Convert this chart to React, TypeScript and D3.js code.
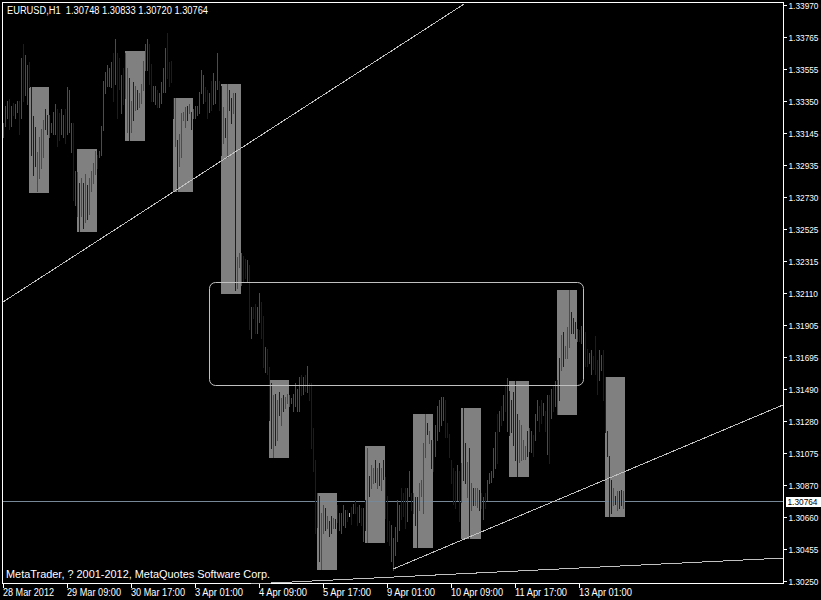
import React from "react";
import * as d3 from "d3";

const symbolTitle = "EURUSD,H1";
const lastBarOHLC = ["1.30748", "1.30833", "1.30720", "1.30764"];
const copyrightText = "MetaTrader, ? 2001-2012, MetaQuotes Software Corp.";

// hourly bars, bar index 1 = 28 Mar 2012 01:00
const firstBarIndex = 1;
const barHigh = [
  1.3321, 1.3332, 1.3335, 1.3336, 1.3332, 1.3334, 1.3333, 1.3335, 1.3335, 1.3363,
  1.3372, 1.3365, 1.3358, 1.3360, 1.3344, 1.3325, 1.3318, 1.3302, 1.3312, 1.3317,
  1.3323, 1.3330, 1.3326, 1.3326, 1.3321, 1.3328, 1.3333, 1.3330, 1.3327, 1.3330,
  1.3326, 1.3330, 1.3344, 1.3342, 1.3321, 1.3321, 1.3290, 1.3289, 1.3282, 1.3285,
  1.3282, 1.3288, 1.3281, 1.3285, 1.3290, 1.3295, 1.3303, 1.3300, 1.3303, 1.3319,
  1.3348, 1.3354, 1.3358, 1.3356, 1.3360, 1.3366, 1.3375, 1.3366, 1.3363, 1.3352,
  1.3356, 1.3366, 1.3356, 1.3350, 1.3335, 1.3347, 1.3345, 1.3342, 1.3340, 1.3346,
  1.3361, 1.3372, 1.3375, 1.3372, 1.3359, 1.3345, 1.3345, 1.3342, 1.3340, 1.3347,
  1.3356, 1.3369, 1.3379, 1.3360, 1.3361, 1.3337, 1.3337, 1.3310, 1.3314, 1.3327,
  1.3328, 1.3331, 1.3332, 1.3333, 1.3328, 1.3330, 1.3332, 1.3332, 1.3341, 1.3355,
  1.3352, 1.3344, 1.3342, 1.3340, 1.3348, 1.3353, 1.3348, 1.3366, 1.3348, 1.3345,
  1.3331, 1.3324, 1.3346, 1.3342, 1.3337, 1.3340, 1.3340, 1.3234, 1.3237, 1.3237,
  1.3235, 1.3233, 1.3232, 1.3229, 1.3202, 1.3202, 1.3204, 1.3202, 1.3211, 1.3205,
  1.3196, 1.3176, 1.3175, 1.3163, 1.3153, 1.3145, 1.3146, 1.3142, 1.3147, 1.3143,
  1.3145, 1.3144, 1.3146, 1.3145, 1.3143, 1.3146, 1.3153, 1.3149, 1.3157, 1.3158,
  1.3157, 1.3158, 1.3164, 1.3153, 1.3153, 1.3124, 1.3103, 1.3082, 1.3080, 1.3069,
  1.3074, 1.3072, 1.3067, 1.3064, 1.3067, 1.3066, 1.3065, 1.3074, 1.3069, 1.3069,
  1.3074, 1.3071, 1.3071, 1.3069, 1.3073, 1.3075, 1.3077, 1.3073, 1.3074, 1.3072,
  1.3072, 1.3077, 1.3111, 1.3093, 1.3100, 1.3098, 1.3103, 1.3098, 1.3101, 1.3098,
  1.3103, 1.3092, 1.3080, 1.3064, 1.3061, 1.3053, 1.3060, 1.3077, 1.3074, 1.3085,
  1.3082, 1.3085, 1.3085, 1.3096, 1.3082, 1.3082, 1.3079, 1.3079, 1.3088, 1.3090,
  1.3114, 1.3133, 1.3127, 1.3122, 1.3116, 1.3116, 1.3126, 1.3138, 1.3142, 1.3144,
  1.3144, 1.3142, 1.3127, 1.3120, 1.3103, 1.3098, 1.3096, 1.3100, 1.3096, 1.3101,
  1.3137, 1.3114, 1.3102, 1.3111, 1.3088, 1.3085, 1.3085, 1.3085, 1.3084, 1.3082,
  1.3079, 1.3082, 1.3090, 1.3095, 1.3096, 1.3111, 1.3121, 1.3133, 1.3135, 1.3138,
  1.3145, 1.3151, 1.3156, 1.3148, 1.3142, 1.3147, 1.3154, 1.3133, 1.3129, 1.3126,
  1.3116, 1.3112, 1.3122, 1.3124, 1.3122, 1.3119, 1.3133, 1.3142, 1.3138, 1.3142,
  1.3140, 1.3135, 1.3145, 1.3145, 1.3149, 1.3151, 1.3154, 1.3155, 1.3169, 1.3184,
  1.3186, 1.3177, 1.3189, 1.3213, 1.3199, 1.3195, 1.3192, 1.3188, 1.3187, 1.3190,
  1.3199, 1.3186, 1.3175, 1.3172, 1.3174, 1.3170, 1.3183, 1.3168, 1.3174, 1.3171,
  1.3174, 1.3157, 1.3122, 1.3106, 1.3090, 1.3085, 1.3080, 1.3083, 1.3083, 1.3084,
  1.30833,
];
const barLow = [
  1.3312, 1.3319, 1.3324, 1.3317, 1.3319, 1.3326, 1.3324, 1.3328, 1.3314, 1.3324,
  1.3335, 1.3339, 1.3333, 1.3344, 1.3300, 1.3287, 1.3293, 1.3277, 1.3285, 1.3292,
  1.3299, 1.3317, 1.3314, 1.3312, 1.3315, 1.3314, 1.3314, 1.3306, 1.3310, 1.3314,
  1.3312, 1.3308, 1.3314, 1.3315, 1.3302, 1.3271, 1.3268, 1.3261, 1.3251, 1.3261,
  1.3253, 1.3257, 1.3259, 1.3262, 1.3277, 1.3282, 1.3288, 1.3292, 1.3299, 1.3300,
  1.3316, 1.3340, 1.3345, 1.3345, 1.3344, 1.3335, 1.3346, 1.3324, 1.3343, 1.3327,
  1.3333, 1.3337, 1.3315, 1.3310, 1.3315, 1.3323, 1.3329, 1.3330, 1.3331, 1.3334,
  1.3342, 1.3355, 1.3355, 1.3346, 1.3335, 1.3335, 1.3333, 1.3331, 1.3331, 1.3334,
  1.3341, 1.3341, 1.3350, 1.3345, 1.3347, 1.3324, 1.3306, 1.3277, 1.3293, 1.3299,
  1.3323, 1.3318, 1.3323, 1.3327, 1.3317, 1.3324, 1.3324, 1.3326, 1.3327, 1.3340,
  1.3334, 1.3335, 1.3324, 1.3328, 1.3329, 1.3333, 1.3334, 1.3343, 1.3329, 1.3300,
  1.3308, 1.3312, 1.3299, 1.3329, 1.3321, 1.3327, 1.3213, 1.3214, 1.3228, 1.3216,
  1.3218, 1.3221, 1.3218, 1.3188, 1.3182, 1.3195, 1.3185, 1.3185, 1.3192, 1.3182,
  1.3163, 1.3160, 1.3159, 1.3129, 1.3111, 1.3105, 1.3113, 1.3116, 1.3132, 1.3126,
  1.3135, 1.3137, 1.3140, 1.3138, 1.3140, 1.3135, 1.3138, 1.3135, 1.3135, 1.3145,
  1.3146, 1.3148, 1.3147, 1.3142, 1.3111, 1.3096, 1.3056, 1.3060, 1.3038, 1.3033,
  1.3056, 1.3058, 1.3059, 1.3054, 1.3056, 1.3059, 1.3059, 1.3063, 1.3058, 1.3056,
  1.3061, 1.3060, 1.3064, 1.3067, 1.3062, 1.3069, 1.3069, 1.3061, 1.3063, 1.3061,
  1.3051, 1.3058, 1.3050, 1.3080, 1.3085, 1.3088, 1.3089, 1.3085, 1.3087, 1.3084,
  1.3091, 1.3066, 1.3051, 1.3048, 1.3038, 1.3032, 1.3042, 1.3051, 1.3058, 1.3065,
  1.3067, 1.3059, 1.3064, 1.3080, 1.3071, 1.3069, 1.3061, 1.3047, 1.3071, 1.3080,
  1.3069, 1.3105, 1.3120, 1.3114, 1.3098, 1.3096, 1.3106, 1.3116, 1.3122, 1.3126,
  1.3129, 1.3118, 1.3118, 1.3105, 1.3088, 1.3075, 1.3072, 1.3077, 1.3064, 1.3076,
  1.3090, 1.3088, 1.3079, 1.3053, 1.3071, 1.3074, 1.3074, 1.3073, 1.3071, 1.3072,
  1.3065, 1.3072, 1.3077, 1.3088, 1.3089, 1.3092, 1.3098, 1.3101, 1.3122, 1.3126,
  1.3129, 1.3135, 1.3122, 1.3119, 1.3121, 1.3113, 1.3103, 1.3093, 1.3102, 1.3103,
  1.3104, 1.3104, 1.3106, 1.3109, 1.3108, 1.3106, 1.3116, 1.3129, 1.3122, 1.3127,
  1.3132, 1.3122, 1.3107, 1.3101, 1.3130, 1.3135, 1.3138, 1.3133, 1.3142, 1.3161,
  1.3164, 1.3169, 1.3169, 1.3176, 1.3185, 1.3185, 1.3182, 1.3180, 1.3180, 1.3179,
  1.3184, 1.3164, 1.3164, 1.3166, 1.3159, 1.3162, 1.3159, 1.3146, 1.3155, 1.3161,
  1.3142, 1.3121, 1.3106, 1.3067, 1.3069, 1.3074, 1.3075, 1.3071, 1.3072, 1.3074,
  1.30720,
];
// u = close above open, d = close below open, n = unchanged
const barDirection = (
  "uuududuudu" + "duudddduuu" + "udduuuuddu" + "uduuuduudu" + "duduuuuduu" +
  "uuuuududdu" + "duudududuu" + "uuudduuduu" + "uudddduduu" + "uududuuuuu" +
  "udduduuudd" + "ududduduuu" + "ddududduud" + "dudddududu" + "duuuuuuuud" +
  "ududdddudu" + "ududdudduu" + "uudnduddud" + "ududuududu" + "dddduuuuud" +
  "dduududduu" + "uududduuuu" + "uddddddudu" + "ddududuudd" + "uduuuuudud" +
  "ududdddduu" + "uuduuduudd" + "udududuudu" + "duuudddudu" + "ddduuddduu" +
  "dddddududd" + "u"
).split("");

// daily session boxes (14:00-24:00), one per trading day
const sessionStartBar = [14, 38, 62, 86, 110, 134, 158, 182, 206, 230, 254, 278, 302];
const sessionHours = 10;
const sessionHigh = [1.3344, 1.3304, 1.3367, 1.3337, 1.3346, 1.3155, 1.3082, 1.3112, 1.3133, 1.3137, 1.3154, 1.3213, 1.3157];
const sessionLow = [1.3276, 1.3251, 1.3310, 1.3277, 1.3211, 1.3105, 1.3033, 1.3050, 1.3047, 1.3053, 1.3093, 1.3133, 1.3067];

const timeLabels = ["28 Mar 2012", "29 Mar 09:00", "30 Mar 17:00", "3 Apr 01:00", "4 Apr 09:00", "5 Apr 17:00", "9 Apr 01:00", "10 Apr 09:00", "11 Apr 17:00", "13 Apr 01:00"];
const timeLabelBars = [1, 33, 65, 97, 129, 161, 193, 225, 257, 289];

const priceLabels = ["1.33970", "1.33765", "1.33555", "1.33350", "1.33145", "1.32935", "1.32730", "1.32525", "1.32315", "1.32110", "1.31905", "1.31695", "1.31490", "1.31280", "1.31075", "1.30870", "1.30660", "1.30455", "1.30250"];
const priceMin = 1.3025;
const priceMax = 1.3397;
const currentPrice = 1.30764;

// trend lines: start bar/price -> end bar/price
const trendStartBar = [1, 196, 100];
const trendStartPrice = [1.32052, 1.30327, 1.30215];
const trendEndBar = [231.5, 391, 391];
const trendEndPrice = [1.33976, 1.31387, 1.30398];

// rounded consolidation zone
const zoneBars = [104, 291];
const zonePrices = [1.32181, 1.31516];

const upColor = "#ff0000";
const downColor = "#0000ff";
const flatColor = "#60e8b0";
const FONT = "'Liberation Sans', Arial, sans-serif";
const timeLabelWidths = [51, 54, 54, 48, 48, 48, 48, 52, 52, 53];

export default function App() {
  const W = 821;
  const H = 600;
  const plot = { left: 2, top: 2, right: 783, bottom: 583 };
  const x = d3.scaleLinear().domain([0, 391]).range([1, 783]);
  const y = d3.scaleLinear().domain([priceMin, priceMax]).range([581, 5]);
  const ry = (p: number) => Math.round(y(p));

  const bars = barHigh.map((h, i) => ({
    t: i + firstBarIndex,
    h,
    l: barLow[i],
    d: barDirection[i] || "u",
  }));
  const colorOf = (d: string) => (d === "u" ? upColor : d === "d" ? downColor : flatColor);

  const priceTicks = d3.range(priceLabels.length).map((k) => ({
    v: priceMax - (k * (priceMax - priceMin)) / (priceLabels.length - 1),
    label: priceLabels[k],
  }));

  const textStyle = { fontFamily: FONT, fontSize: 10 } as React.CSSProperties;
  const numStyle = { fontFamily: FONT, fontSize: 8.3 } as React.CSSProperties;
  const copyStyle = { fontFamily: FONT, fontSize: 10.9 } as React.CSSProperties;

  return (
    <svg
      width={W}
      height={H}
      style={{ position: "absolute", left: 0, top: 0, background: "#000" }}
    >
      <defs>
        <clipPath id="plotClip">
          <rect x={plot.left} y={plot.top} width={plot.right - plot.left} height={plot.bottom - plot.top} />
        </clipPath>
        <clipPath id="lineClip">
          <rect x={plot.left} y={plot.top} width={plot.right - plot.left} height={plot.bottom - plot.top + 1} />
        </clipPath>
      </defs>
      <rect x={0} y={0} width={W} height={H} fill="#000" />

      <g clipPath="url(#plotClip)" shapeRendering="crispEdges">
        {sessionStartBar.map((s, i) => (
          <rect
            key={"box" + i}
            x={x(s)}
            y={ry(sessionHigh[i])}
            width={x(s + sessionHours) - x(s)}
            height={ry(sessionLow[i]) - ry(sessionHigh[i]) + 1}
            fill="#808080"
          />
        ))}
        <line
          x1={plot.left}
          x2={plot.right}
          y1={ry(currentPrice) + 0.5}
          y2={ry(currentPrice) + 0.5}
          stroke="#778899"
          strokeWidth={1}
        />
        {bars.map((b) => (
          <rect
            key={"bar" + b.t}
            x={x(b.t)}
            y={ry(b.h)}
            width={1}
            height={Math.max(1, ry(b.l) - ry(b.h) + 1)}
            fill={colorOf(b.d)}
          />
        ))}
      </g>

      {/* frame */}
      <g shapeRendering="crispEdges" stroke="#ffffff" strokeWidth={1}>
        <line x1={plot.left + 0.5} x2={plot.left + 0.5} y1={plot.top} y2={plot.bottom + 1} />
        <line x1={plot.right + 0.5} x2={plot.right + 0.5} y1={plot.top} y2={plot.bottom + 1} />
        <line x1={plot.left} x2={plot.right + 1} y1={plot.top + 0.5} y2={plot.top + 0.5} />
        <line x1={plot.left} x2={plot.right + 1} y1={plot.bottom + 0.5} y2={plot.bottom + 0.5} />
        {priceTicks.map((p, i) => (
          <line key={"pt" + i} x1={plot.right} x2={plot.right + 4} y1={ry(p.v) + 0.5} y2={ry(p.v) + 0.5} />
        ))}
        {timeLabelBars.map((t, i) => (
          <line key={"tt" + i} x1={x(t) + 0.5} x2={x(t) + 0.5} y1={plot.bottom} y2={plot.bottom + 5} />
        ))}
      </g>

      <g clipPath="url(#lineClip)">
        <rect
          x={x(zoneBars[0]) + 0.5}
          y={ry(zonePrices[0]) + 0.5}
          width={x(zoneBars[1]) - x(zoneBars[0])}
          height={ry(zonePrices[1]) - ry(zonePrices[0])}
          rx={6}
          ry={6}
          fill="none"
          stroke="#c0c0c0"
          strokeWidth={1}
        />
        {trendStartBar.map((t1, i) => (
          <line
            key={"trend" + i}
            x1={x(t1)}
            y1={y(trendStartPrice[i])}
            x2={x(trendEndBar[i])}
            y2={y(trendEndPrice[i])}
            stroke="#c0c0c0"
            strokeWidth={1}
            shapeRendering="crispEdges"
          />
        ))}
      </g>

      {priceTicks.map((p, i) => (
        <text
          key={"pl" + i}
          transform={`translate(788.5, ${ry(p.v) + 4}) scale(1, 1.2)`}
          fill="#ffffff"
          style={numStyle}
        >
          {p.label}
        </text>
      ))}
      {timeLabels.map((lab, i) => (
        <text
          key={"tl" + i}
          x={x(timeLabelBars[i])}
          y={596}
          fill="#ffffff"
          style={textStyle}
          textLength={timeLabelWidths[i]}
          lengthAdjust="spacingAndGlyphs"
        >
          {lab}
        </text>
      ))}

      {/* current price tag */}
      <rect x={786} y={ry(currentPrice) - 4} width={35} height={10} fill="#ffffff" />
      <text
        transform={`translate(787.5, ${ry(currentPrice) + 4}) scale(1, 1.2)`}
        fill="#000000"
        style={numStyle}
      >
        {lastBarOHLC[3]}
      </text>

      <text
        x={7}
        y={14}
        fill="#ffffff"
        style={textStyle}
        textLength={201}
        lengthAdjust="spacingAndGlyphs"
      >
        {symbolTitle + "\u00a0\u00a0" + lastBarOHLC.join(" ")}
      </text>
      <text x={6} y={578} fill="#ffffff" style={copyStyle} textLength={264} lengthAdjust="spacingAndGlyphs">
        {copyrightText}
      </text>
    </svg>
  );
}
